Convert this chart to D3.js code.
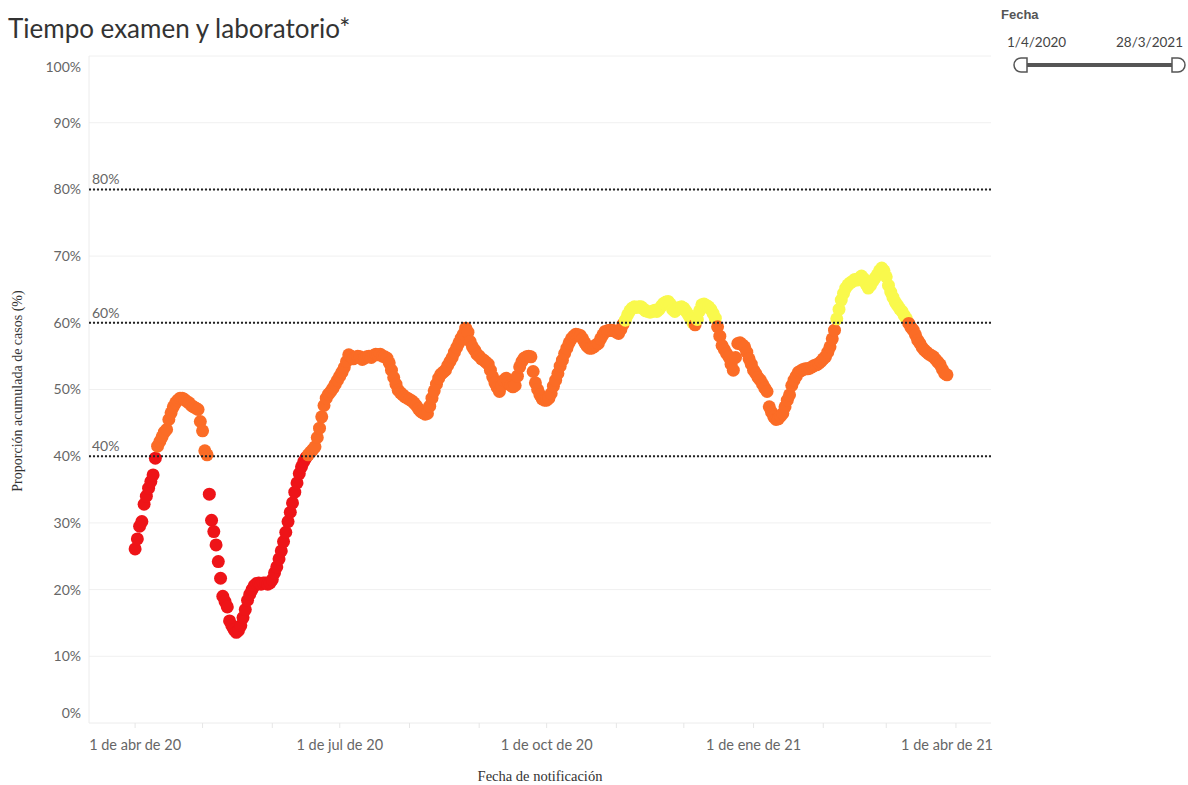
<!DOCTYPE html>
<html>
<head>
<meta charset="utf-8">
<script src="https://cdn.jsdelivr.net/npm/d3@7"></script>
<style>
  body { margin: 0; background: #fff; }
  svg { display: block; }
</style>
</head>
<body>
<svg id="chart" width="1188" height="785"></svg>
<script>
// daily share (%) starting 1 Apr 2020, one value per day up to 28 Mar 2021
var firstDay = "2020-04-01";
var shareValues = [
  26.1, 27.6, 29.5, 30.2, 32.8, 34.0, 35.2, 36.2, 37.2, 39.7,
  41.5, 42.2, 42.9, 43.6, 44.0, 45.5, 46.5, 47.4, 48.0, 48.4,
  48.7, 48.7, 48.5, 48.2, 48.0, 47.6, 47.4, 47.2, 47.0, 45.2,
  43.8, 40.8, 40.2, 34.3, 30.4, 28.7, 26.7, 24.2, 21.7, 19.0,
  18.2, 17.4, 15.3, 14.6, 14.0, 13.6, 13.9, 14.6, 15.8, 17.0,
  18.4, 19.3, 20.0, 20.6, 20.9, 21.0, 20.8, 21.0, 21.0, 20.8,
  21.0, 21.5, 22.5, 23.4, 24.6, 25.8, 27.2, 28.6, 30.2, 31.6,
  33.0, 34.6, 36.0, 37.4, 38.4, 39.2, 39.8, 40.2, 40.6, 41.0,
  41.4, 42.8, 44.2, 45.9, 47.6, 48.7, 49.3, 49.7, 50.2, 50.8,
  51.4, 52.0, 52.6, 53.3, 54.2, 55.2, 55.0, 54.6, 54.8, 55.0,
  54.9, 54.5, 54.7, 54.9, 55.0, 54.8, 55.1, 55.3, 55.2, 55.3,
  55.0, 54.9, 54.7, 54.0, 52.9, 51.8, 50.8, 49.9, 49.5, 49.2,
  48.9, 48.7, 48.5, 48.3, 48.0, 47.6, 47.1, 46.7, 46.5, 46.3,
  46.4, 47.5, 48.7, 49.8, 50.8, 51.7, 52.3, 52.6, 52.9, 53.6,
  54.2, 54.8, 55.6, 56.3, 57.0, 57.7, 58.3, 59.2, 58.6, 57.2,
  56.4, 55.9, 55.3, 55.0, 54.6, 54.4, 54.1, 53.8, 52.9, 51.9,
  51.0, 50.3, 49.7, 50.6, 51.4, 51.7, 51.0, 50.6, 50.4, 50.6,
  52.0, 53.4, 54.2, 54.7, 54.9, 55.0, 54.9, 52.7, 51.0, 50.0,
  49.2, 48.6, 48.4, 48.4, 48.7, 49.4, 50.5, 51.4, 52.4, 53.5,
  54.4, 55.4, 56.2, 57.0, 57.6, 58.0, 58.3, 58.2, 58.1, 57.6,
  57.0, 56.5, 56.2, 56.2, 56.4, 56.7, 56.9, 57.6, 58.2, 58.7,
  58.8, 58.9, 58.9, 58.8, 58.6, 58.4, 59.0, 59.8, 60.4, 61.2,
  61.8, 62.2, 62.4, 62.3, 62.4, 62.4, 62.1, 61.8, 61.7, 61.6,
  61.7, 61.9, 61.7, 62.0, 62.5, 62.9, 63.1, 63.2, 62.8, 62.0,
  61.7, 62.0, 62.3, 62.4, 62.2, 61.7, 61.2, 60.6, 60.0, 59.7,
  60.5, 61.8, 62.7, 62.8, 62.6, 62.4, 62.0, 61.4, 60.7, 59.4,
  58.0, 56.6, 56.0, 55.4, 54.9, 53.8, 52.9, 54.8, 56.9, 57.0,
  56.7, 56.4, 55.6, 54.6, 53.8, 52.9, 52.4, 51.8, 51.4, 50.8,
  50.2, 49.7, 47.4, 46.6, 45.9, 45.5, 45.6, 46.0, 46.4, 47.4,
  48.4, 49.2, 50.6, 51.4, 52.0, 52.6, 52.8, 53.0, 53.1, 53.1,
  53.2, 53.4, 53.6, 53.7, 53.9, 54.2, 54.6, 54.9, 55.6, 56.4,
  57.6, 58.9, 60.6, 62.0, 63.4, 64.4, 65.2, 65.7, 66.0, 66.2,
  66.5, 66.4, 66.7, 67.0, 66.6, 65.8, 65.2, 65.6, 66.2, 66.7,
  67.2, 67.8, 68.2, 67.8, 66.9, 65.6, 64.6, 63.8, 63.1, 62.6,
  62.1, 61.7, 61.1, 60.6, 59.9, 59.3, 58.9, 58.2, 57.4, 56.9,
  56.3, 55.9, 55.6, 55.3, 55.1, 54.9, 54.5, 54.1, 53.7, 53.0,
  52.4, 52.2
];
var yTicks = [0, 10, 20, 30, 40, 50, 60, 70, 80, 90, 100];
var refLines = [40, 60, 80];
var xLabelDates = ["2020-04-01", "2020-07-01", "2020-10-01", "2021-01-01", "2021-04-01"];
var monthNames = ["ene", "feb", "mar", "abr", "may", "jun", "jul", "ago", "sep", "oct", "nov", "dic"];
var colorBreaks = [40, 60];
var colorRange = ["#ee1418", "#fb6c26", "#f9f94c"];
var filterRange = ["1/4/2020", "28/3/2021"];

(function () {
  var parse = d3.utcParse("%Y-%m-%d");
  var start = parse(firstDay);
  var points = shareValues.map(function (v, i) {
    return { date: d3.utcDay.offset(start, i), value: v };
  });

  var svg = d3.select("#chart");
  var paneLeft = 89, paneRight = 991, paneTop = 56, paneBottom = 723;
  var axisFont = "Lato, sans-serif";

  var x = d3.scaleUtc()
    .domain([Date.UTC(2020, 2, 11, 12), Date.UTC(2021, 3, 16, 14)])
    .range([paneLeft, paneRight]);
  var y = d3.scaleLinear().domain([0, 100]).range([paneBottom, paneTop]);
  var color = d3.scaleThreshold().domain(colorBreaks).range(colorRange);

  // title
  svg.append("text")
    .attr("x", 8).attr("y", 38)
    .attr("font-family", axisFont)
    .attr("font-size", 26)
    .attr("fill", "#333")
    .text("Tiempo examen y laboratorio*");

  // gridlines every 10%
  svg.append("g").selectAll("line")
    .data(yTicks.filter(function (d) { return d > 0; }))
    .join("line")
    .attr("x1", paneLeft).attr("x2", paneRight)
    .attr("y1", function (d) { return y(d); })
    .attr("y2", function (d) { return y(d); })
    .attr("stroke", "#f0f0f0")
    .attr("stroke-width", 1);

  svg.append("line")
    .attr("x1", paneLeft).attr("x2", paneLeft).attr("y1", paneTop).attr("y2", paneBottom)
    .attr("stroke", "#ececec");
  svg.append("line")
    .attr("x1", paneLeft).attr("x2", paneRight).attr("y1", paneBottom).attr("y2", paneBottom)
    .attr("stroke", "#ececec");

  // y axis labels (top and bottom ones pulled inside the pane)
  svg.append("g").selectAll("text")
    .data(yTicks)
    .join("text")
    .attr("x", 81)
    .attr("y", function (d) {
      var p = y(d);
      if (d === 100) p += 11;
      if (d === 0) p -= 10;
      return p;
    })
    .attr("dy", "0.35em")
    .attr("text-anchor", "end")
    .attr("font-family", axisFont)
    .attr("font-size", 14)
    .attr("fill", "#666")
    .text(function (d) { return d + "%"; });

  // monthly ticks on x axis
  var months = d3.utcMonth.range(Date.UTC(2020, 3, 1), Date.UTC(2021, 3, 2));
  svg.append("g").selectAll("line")
    .data(months)
    .join("line")
    .attr("x1", function (d) { return x(d); })
    .attr("x2", function (d) { return x(d); })
    .attr("y1", paneBottom).attr("y2", paneBottom + 5)
    .attr("stroke", "#e6e6e6");

  var fmt = function (d) {
    return d.getUTCDate() + " de " + monthNames[d.getUTCMonth()] + " de " + String(d.getUTCFullYear()).slice(2);
  };
  svg.append("g").selectAll("text")
    .data(xLabelDates.map(parse))
    .join("text")
    .attr("x", function (d) { return x(d); })
    .attr("y", 750)
    .attr("text-anchor", "middle")
    .attr("font-family", axisFont)
    .attr("font-size", 14.5)
    .attr("fill", "#666")
    .text(fmt)
    .each(function () {
      var b = this.getBBox();
      if (b.x + b.width > paneRight + 2) {
        d3.select(this).attr("x", paneRight + 2).attr("text-anchor", "end");
      }
    });

  // axis titles
  svg.append("text")
    .attr("x", 540).attr("y", 781)
    .attr("text-anchor", "middle")
    .attr("font-family", "'Liberation Serif', serif")
    .attr("font-size", 14.5)
    .attr("fill", "#333")
    .text("Fecha de notificación");
  svg.append("text")
    .attr("transform", "translate(22,391) rotate(-90)")
    .attr("text-anchor", "middle")
    .attr("font-family", "'Liberation Serif', serif")
    .attr("font-size", 14)
    .attr("fill", "#333")
    .text("Proporción acumulada de casos (%)");

  // dots
  svg.append("g").selectAll("circle")
    .data(points)
    .join("circle")
    .attr("cx", function (d) { return x(d.date); })
    .attr("cy", function (d) { return y(d.value); })
    .attr("r", 6.5)
    .attr("fill", function (d) { return color(d.value); });

  // reference lines drawn over the dots
  var refs = svg.append("g").selectAll("g")
    .data(refLines)
    .join("g");
  refs.append("line")
    .attr("x1", paneLeft).attr("x2", paneRight)
    .attr("y1", function (d) { return y(d); })
    .attr("y2", function (d) { return y(d); })
    .attr("stroke", "#222")
    .attr("stroke-width", 2)
    .attr("stroke-dasharray", "2,2");
  refs.append("text")
    .attr("x", 92)
    .attr("y", function (d) { return y(d) - 5; })
    .attr("font-family", axisFont)
    .attr("font-size", 14)
    .attr("fill", "#666")
    .text(function (d) { return d + "%"; });

  // date filter widget
  var f = svg.append("g");
  f.append("text")
    .attr("x", 1001).attr("y", 19)
    .attr("font-family", "'Liberation Sans', sans-serif")
    .attr("font-size", 13)
    .attr("font-weight", "bold")
    .attr("fill", "#555")
    .text("Fecha");
  f.append("text")
    .attr("x", 1007).attr("y", 47)
    .attr("font-family", axisFont)
    .attr("font-size", 13.5)
    .attr("fill", "#444")
    .text(filterRange[0]);
  f.append("text")
    .attr("x", 1183).attr("y", 47)
    .attr("text-anchor", "end")
    .attr("font-family", axisFont)
    .attr("font-size", 13.5)
    .attr("fill", "#444")
    .text(filterRange[1]);
  f.append("line")
    .attr("x1", 1025).attr("x2", 1174).attr("y1", 65).attr("y2", 65)
    .attr("stroke", "#555").attr("stroke-width", 4);
  f.append("path")
    .attr("d", "M1027,58 L1021,58 A7,7 0 0 0 1021,72 L1027,72 Z")
    .attr("fill", "#fff").attr("stroke", "#555").attr("stroke-width", 1.5);
  f.append("path")
    .attr("d", "M1172,58 L1178,58 A7,7 0 0 1 1178,72 L1172,72 Z")
    .attr("fill", "#fff").attr("stroke", "#555").attr("stroke-width", 1.5);
})();
</script>
</body>
</html>
